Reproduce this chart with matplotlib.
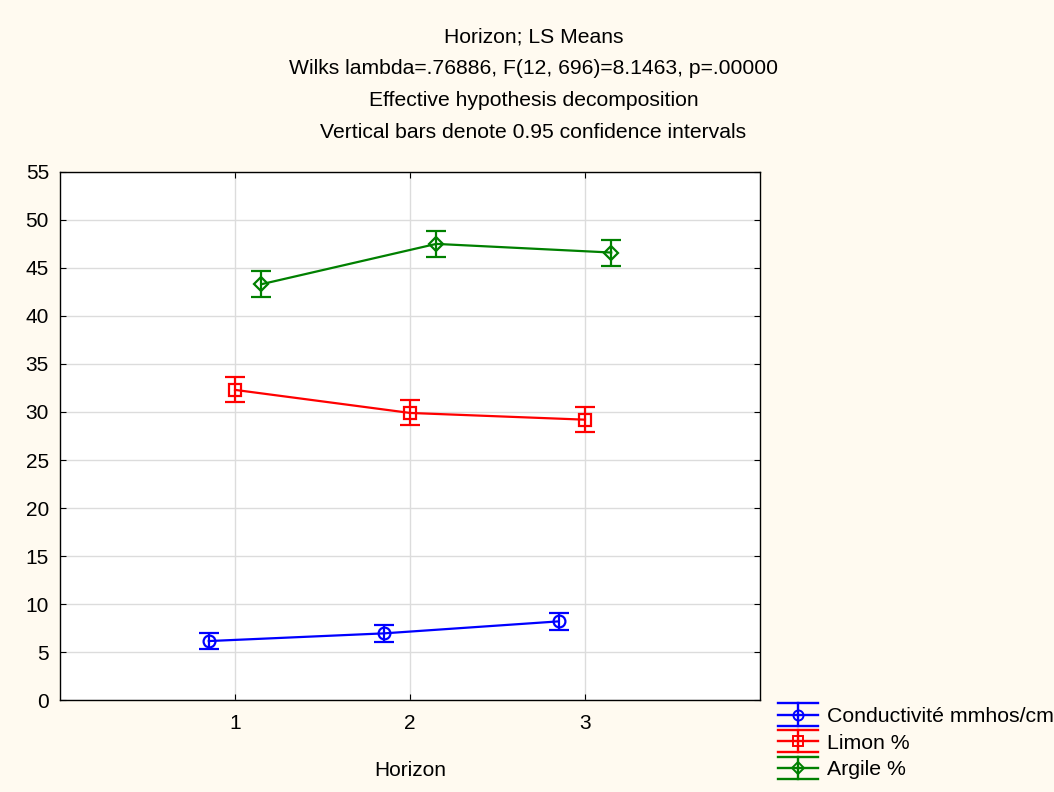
import matplotlib.pyplot as plt
from matplotlib.lines import Line2D
from matplotlib.legend_handler import HandlerBase

plt.rcParams['font.family'] = ['Liberation Sans', 'DejaVu Sans']

horizons = [1, 2, 3]
offsets = [-0.15, 0.0, 0.15]
series_names = ['Conductivité mmhos/cm', 'Limon %', 'Argile %']
colors = ['#0000FF', '#FF0000', '#008000']
markers = ['o', 's', 'D']

conductivite = [6.15, 6.95, 8.2]
conductivite_err = [0.8, 0.85, 0.85]
limon = [32.3, 29.9, 29.2]
limon_err = [1.3, 1.3, 1.3]
argile = [43.3, 47.5, 46.6]
argile_err = [1.35, 1.35, 1.35]

means = [conductivite, limon, argile]
errors = [conductivite_err, limon_err, argile_err]

title_lines = [
    "Horizon; LS Means",
    "Wilks lambda=.76886, F(12, 696)=8.1463, p=.00000",
    "Effective hypothesis decomposition",
    "Vertical bars denote 0.95 confidence intervals",
]


class CapHandler(HandlerBase):
    # legend key: caps spanning the whole handle, like the original software
    def create_artists(self, legend, orig, xdescent, ydescent, width, height, fontsize, trans):
        c = orig.get_color()
        x0, x1 = -xdescent, -xdescent + width
        ym = height / 2 - ydescent
        d = 8.0
        xm = (x0 + x1) / 2
        arts = [
            Line2D([x0, x1], [ym, ym], color=c, lw=1.7),
            Line2D([x0, x1], [ym + d, ym + d], color=c, lw=1.7),
            Line2D([x0, x1], [ym - d, ym - d], color=c, lw=1.7),
            Line2D([xm, xm], [ym - d, ym + d], color=c, lw=1.7),
            Line2D([xm], [ym], color=c, marker=orig.get_marker(), markersize=orig.get_markersize() * 0.85,
                   markerfacecolor='none', markeredgecolor=c, markeredgewidth=1.4),
        ]
        for a in arts:
            a.set_transform(trans)
        return arts


fig = plt.figure(figsize=(10.54, 7.92), dpi=100, facecolor='#FFFAF0')
ax = fig.add_axes([0.057, 0.116, 0.664, 0.667])
ax.set_facecolor('white')

proxies = []
for name, vals, errs, col, mk, off in zip(series_names, means, errors, colors, markers, offsets):
    xs = [h + off for h in horizons]
    ms = 7.5 if mk == 'D' else 8.5
    ax.errorbar(xs, vals, yerr=errs, color=col, marker=mk, markersize=ms,
                markerfacecolor='none', markeredgecolor=col, markeredgewidth=1.6,
                linewidth=1.6, capsize=7.5, capthick=1.6, elinewidth=1.6)
    proxies.append(Line2D([], [], color=col, marker=mk, markersize=ms))

ax.set_xlim(0, 4)
ax.set_ylim(0, 55)
ax.set_xticks(horizons)
ax.set_yticks(range(0, 56, 5))
ax.grid(True, color='#DCDCDC', linewidth=1)
ax.set_axisbelow(True)
ax.tick_params(direction='in', top=True, right=True, labelsize=15, length=4, color='black')
ax.tick_params(axis='y', pad=8)
ax.tick_params(axis='x', pad=10)
for s in ax.spines.values():
    s.set_color('black')
    s.set_linewidth(1)
ax.set_xlabel("Horizon", fontsize=15, labelpad=20)

for i, line in enumerate(title_lines):
    fig.text(0.506, 1 - (37 + 32 * i) / 792, line, ha='center', va='center', fontsize=15.2)

fig.legend(proxies, series_names, handler_map={Line2D: CapHandler()},
           loc='upper left', bbox_to_anchor=(0.738, 1 - 707 / 792), bbox_transform=fig.transFigure,
           frameon=False, fontsize=15.3, handlelength=1.9, handletextpad=0.4,
           labelspacing=0.36, borderpad=0, borderaxespad=0)

fig.savefig('out.png', dpi=100, facecolor=fig.get_facecolor())
